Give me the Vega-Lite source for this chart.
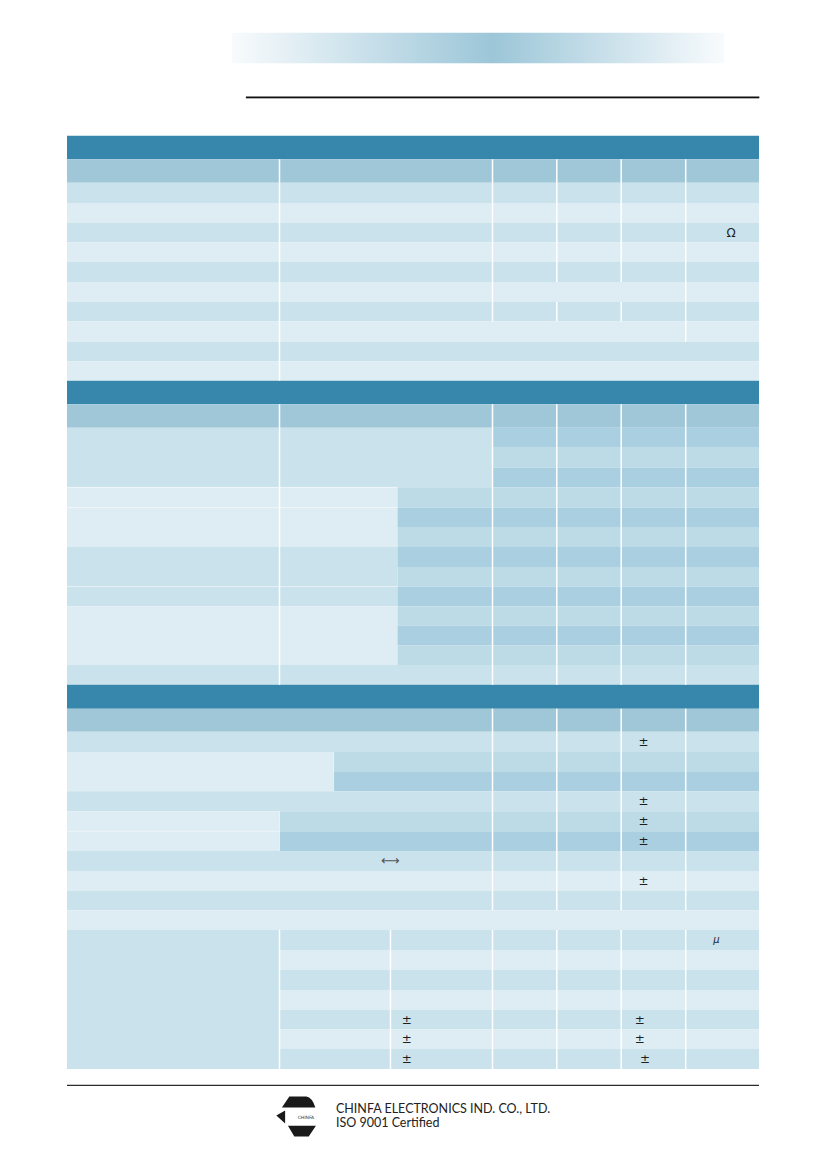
{
  "$schema": "https://vega.github.io/schema/vega-lite/v6.json",
  "width": 826,
  "height": 1169,
  "autosize": {"type": "none"},
  "padding": 0,
  "background": "white",
  "config": {"view": {"stroke": null}},
  "datasets": {
    "banner": [{"c0": 0.776, "c1": 5.523, "r0": -3, "r1": -2}],
    "topline": [{"c0": 0.842, "c1": 6.005, "r0": -1}],
    "footline": [{"c0": 0, "c1": 6, "r0": 47}],
    "cells": [
      {"c0": 0, "c1": 6, "r0": 0, "r1": 1, "tone": "header"},
      {"c0": 0, "c1": 6, "r0": 1, "r1": 2, "tone": "colhead"},
      {"c0": 0, "c1": 6, "r0": 2, "r1": 3, "tone": "band"},
      {"c0": 0, "c1": 6, "r0": 3, "r1": 4, "tone": "pale"},
      {"c0": 0, "c1": 6, "r0": 4, "r1": 5, "tone": "band"},
      {"c0": 0, "c1": 6, "r0": 5, "r1": 6, "tone": "pale"},
      {"c0": 0, "c1": 6, "r0": 6, "r1": 7, "tone": "band"},
      {"c0": 0, "c1": 6, "r0": 7, "r1": 8, "tone": "pale"},
      {"c0": 0, "c1": 6, "r0": 8, "r1": 9, "tone": "band"},
      {"c0": 0, "c1": 6, "r0": 9, "r1": 10, "tone": "pale"},
      {"c0": 0, "c1": 6, "r0": 10, "r1": 11, "tone": "band"},
      {"c0": 0, "c1": 6, "r0": 11, "r1": 12, "tone": "pale"},
      {"c0": 0, "c1": 6, "r0": 12, "r1": 13, "tone": "header"},
      {"c0": 0, "c1": 6, "r0": 13, "r1": 14, "tone": "colhead"},
      {"c0": 0, "c1": 2, "r0": 14, "r1": 17, "tone": "band"},
      {"c0": 2, "c1": 6, "r0": 14, "r1": 15, "tone": "deep"},
      {"c0": 2, "c1": 6, "r0": 15, "r1": 16, "tone": "mid"},
      {"c0": 2, "c1": 6, "r0": 16, "r1": 17, "tone": "deep"},
      {"c0": 0, "c1": 1.554, "r0": 17, "r1": 18, "tone": "pale"},
      {"c0": 1.554, "c1": 6, "r0": 17, "r1": 18, "tone": "mid"},
      {"c0": 0, "c1": 1.554, "r0": 18, "r1": 20, "tone": "pale"},
      {"c0": 1.554, "c1": 6, "r0": 18, "r1": 19, "tone": "deep"},
      {"c0": 1.554, "c1": 6, "r0": 19, "r1": 20, "tone": "mid"},
      {"c0": 0, "c1": 1.554, "r0": 20, "r1": 22, "tone": "band"},
      {"c0": 1.554, "c1": 6, "r0": 20, "r1": 21, "tone": "deep"},
      {"c0": 1.554, "c1": 6, "r0": 21, "r1": 22, "tone": "mid"},
      {"c0": 0, "c1": 1.554, "r0": 22, "r1": 23, "tone": "band"},
      {"c0": 1.554, "c1": 6, "r0": 22, "r1": 23, "tone": "deep"},
      {"c0": 0, "c1": 1.554, "r0": 23, "r1": 26, "tone": "pale"},
      {"c0": 1.554, "c1": 6, "r0": 23, "r1": 24, "tone": "mid"},
      {"c0": 1.554, "c1": 6, "r0": 24, "r1": 25, "tone": "deep"},
      {"c0": 1.554, "c1": 6, "r0": 25, "r1": 26, "tone": "mid"},
      {"c0": 0, "c1": 6, "r0": 26, "r1": 27, "tone": "band"},
      {"c0": 0, "c1": 6, "r0": 27, "r1": 28, "tone": "header"},
      {"c0": 0, "c1": 6, "r0": 28, "r1": 29, "tone": "colhead"},
      {"c0": 0, "c1": 6, "r0": 29, "r1": 30, "tone": "band"},
      {"c0": 0, "c1": 1.254, "r0": 30, "r1": 32, "tone": "pale"},
      {"c0": 1.254, "c1": 6, "r0": 30, "r1": 31, "tone": "mid"},
      {"c0": 1.254, "c1": 6, "r0": 31, "r1": 32, "tone": "deep"},
      {"c0": 0, "c1": 6, "r0": 32, "r1": 33, "tone": "band"},
      {"c0": 0, "c1": 1, "r0": 33, "r1": 35, "tone": "pale"},
      {"c0": 1, "c1": 6, "r0": 33, "r1": 34, "tone": "mid"},
      {"c0": 1, "c1": 6, "r0": 34, "r1": 35, "tone": "deep"},
      {"c0": 0, "c1": 6, "r0": 35, "r1": 36, "tone": "band"},
      {"c0": 0, "c1": 6, "r0": 36, "r1": 37, "tone": "pale"},
      {"c0": 0, "c1": 6, "r0": 37, "r1": 38, "tone": "band"},
      {"c0": 0, "c1": 6, "r0": 38, "r1": 39, "tone": "pale"},
      {"c0": 0, "c1": 1, "r0": 39, "r1": 46, "tone": "band"},
      {"c0": 1, "c1": 6, "r0": 39, "r1": 40, "tone": "band"},
      {"c0": 1, "c1": 6, "r0": 40, "r1": 41, "tone": "pale"},
      {"c0": 1, "c1": 6, "r0": 41, "r1": 42, "tone": "band"},
      {"c0": 1, "c1": 6, "r0": 42, "r1": 43, "tone": "pale"},
      {"c0": 1, "c1": 6, "r0": 43, "r1": 44, "tone": "band"},
      {"c0": 1, "c1": 6, "r0": 44, "r1": 45, "tone": "pale"},
      {"c0": 1, "c1": 6, "r0": 45, "r1": 46, "tone": "band"}
    ],
    "separators": [
      {"c0": 1, "r0": 1, "r1": 12},
      {"c0": 2, "r0": 1, "r1": 9},
      {"c0": 3, "r0": 1, "r1": 7},
      {"c0": 3, "r0": 8, "r1": 9},
      {"c0": 4, "r0": 1, "r1": 7},
      {"c0": 4, "r0": 8, "r1": 9},
      {"c0": 5, "r0": 1, "r1": 10},
      {"c0": 1, "r0": 13, "r1": 27},
      {"c0": 2, "r0": 13, "r1": 27},
      {"c0": 3, "r0": 13, "r1": 27},
      {"c0": 4, "r0": 13, "r1": 27},
      {"c0": 5, "r0": 13, "r1": 27},
      {"c0": 2, "r0": 28, "r1": 38},
      {"c0": 3, "r0": 28, "r1": 38},
      {"c0": 4, "r0": 28, "r1": 38},
      {"c0": 5, "r0": 28, "r1": 38},
      {"c0": 1, "r0": 39, "r1": 46},
      {"c0": 1.521, "r0": 39, "r1": 46},
      {"c0": 2, "r0": 39, "r1": 46},
      {"c0": 3, "r0": 39, "r1": 46},
      {"c0": 4, "r0": 39, "r1": 46},
      {"c0": 5, "r0": 39, "r1": 46}
    ],
    "faintV": [
      {"c0": 1, "r0": 33, "r1": 35},
      {"c0": 1.254, "r0": 30, "r1": 32}
    ],
    "faintH": [
      {"c0": 0, "c1": 1.554, "r0": 17},
      {"c0": 0, "c1": 1.554, "r0": 18},
      {"c0": 0, "c1": 1.554, "r0": 22},
      {"c0": 0, "c1": 1, "r0": 34}
    ],
    "symbols": [
      {"t": "Ω", "c0": 5.62, "r0": 4.5},
      {"t": "±", "c0": 4.346, "r0": 29.5},
      {"t": "±", "c0": 4.346, "r0": 32.5},
      {"t": "±", "c0": 4.346, "r0": 33.5},
      {"t": "±", "c0": 4.346, "r0": 34.5},
      {"t": "±", "c0": 4.346, "r0": 36.5},
      {"t": "±", "c0": 4.29, "r0": 43.5},
      {"t": "±", "c0": 4.29, "r0": 44.5},
      {"t": "±", "c0": 4.37, "r0": 45.5},
      {"t": "±", "c0": 1.597, "r0": 43.5},
      {"t": "±", "c0": 1.597, "r0": 44.5},
      {"t": "±", "c0": 1.597, "r0": 45.5}
    ],
    "mu": [{"t": "μ", "c0": 5.42, "r0": 39.5}],
    "arrow": [{"t": "⟷", "c0": 1.52, "r0": 35.5}],
    "logo": [{"c0": 1.079, "r0": 48.49}],
    "logolabel": [{"t": "CHINFA", "c0": 1.124, "r0": 48.53}],
    "company": [
      {"t": "CHINFA ELECTRONICS IND. CO., LTD.", "c0": 1.265, "r0": 48.41},
      {"t": "ISO 9001 Certified", "c0": 1.265, "r0": 48.75}
    ]
  },
  "encoding": {
    "x": {
      "field": "c0",
      "type": "quantitative",
      "axis": null,
      "scale": {
        "domain": [-1, 0, 1, 2, 3, 4, 5, 6, 7],
        "range": [0, 67, 279.5, 492.5, 556.8, 621.2, 685.7, 759, 826],
        "nice": false,
        "zero": false
      }
    },
    "y": {
      "field": "r0",
      "type": "quantitative",
      "axis": null,
      "scale": {
        "domain": [-4, -3, -2, -1, 0, 1, 2, 3, 4, 5, 6, 7, 8, 9, 10, 11, 12, 13, 14, 15, 16, 17, 18, 19, 20, 21, 22, 23, 24, 25, 26, 27, 28, 29, 30, 31, 32, 33, 34, 35, 36, 37, 38, 39, 40, 41, 42, 43, 44, 45, 46, 47, 48, 49, 50],
        "range": [0, 32.7, 63.3, 97.2, 135.7, 159.3, 182.7, 203, 222.7, 242.3, 262, 282, 302, 321.3, 341.7, 361.3, 380.7, 404.3, 427.7, 447.7, 467.7, 487.3, 507.7, 527, 547, 567, 586.7, 606.3, 625.7, 645.3, 665, 684.7, 708.7, 731.7, 752, 772, 791.3, 811.3, 831.3, 851, 871, 890.7, 910.3, 930, 950, 970, 990, 1009.7, 1029.3, 1049, 1069, 1085.3, 1097, 1137, 1169],
        "nice": false,
        "zero": false
      }
    }
  },
  "layer": [
    {
      "data": {"name": "banner"},
      "mark": {
        "type": "rect",
        "color": {
          "gradient": "linear",
          "stops": [
            {"offset": 0, "color": "#f8fbfd"},
            {"offset": 0.53, "color": "#9cc6d8"},
            {"offset": 1, "color": "#f8fbfd"}
          ]
        }
      },
      "encoding": {"x2": {"field": "c1"}, "y2": {"field": "r1"}}
    },
    {
      "data": {"name": "topline"},
      "mark": {"type": "rule", "color": "#a8a8a8", "strokeWidth": 1, "yOffset": 1.2},
      "encoding": {"x2": {"field": "c1"}}
    },
    {
      "data": {"name": "topline"},
      "mark": {"type": "rule", "color": "#111111", "strokeWidth": 1.4},
      "encoding": {"x2": {"field": "c1"}}
    },
    {
      "data": {"name": "cells"},
      "mark": {"type": "rect"},
      "encoding": {
        "x2": {"field": "c1"},
        "y2": {"field": "r1"},
        "color": {
          "field": "tone",
          "type": "nominal",
          "legend": null,
          "scale": {
            "domain": ["header", "colhead", "band", "pale", "mid", "deep"],
            "range": ["#3786ab", "#9fc7d8", "#c9e2eb", "#deedf3", "#bddbe6", "#aacfe0"]
          }
        }
      }
    },
    {
      "data": {"name": "separators"},
      "mark": {"type": "rule", "color": "#ffffff", "strokeWidth": 1.5},
      "encoding": {"y2": {"field": "r1"}}
    },
    {
      "data": {"name": "faintV"},
      "mark": {"type": "rule", "color": "#ffffff", "strokeWidth": 1, "opacity": 0.45},
      "encoding": {"y2": {"field": "r1"}}
    },
    {
      "data": {"name": "faintH"},
      "mark": {"type": "rule", "color": "#ffffff", "strokeWidth": 1, "opacity": 0.45},
      "encoding": {"x2": {"field": "c1"}}
    },
    {
      "data": {"name": "symbols"},
      "mark": {"type": "text", "font": "DejaVu Sans", "fontSize": 12, "color": "#1e1e1e", "align": "center", "baseline": "middle"},
      "encoding": {"text": {"field": "t"}}
    },
    {
      "data": {"name": "mu"},
      "mark": {"type": "text", "font": "DejaVu Sans", "fontSize": 10, "fontStyle": "italic", "color": "#1e1e1e", "align": "center", "baseline": "middle"},
      "encoding": {"text": {"field": "t"}}
    },
    {
      "data": {"name": "arrow"},
      "mark": {"type": "text", "font": "DejaVu Sans", "fontSize": 13, "color": "#555555", "align": "center", "baseline": "middle"},
      "encoding": {"text": {"field": "t"}}
    },
    {
      "data": {"name": "footline"},
      "mark": {"type": "rule", "color": "#2b2b2b", "strokeWidth": 1.3},
      "encoding": {"x2": {"field": "c1"}}
    },
    {
      "data": {"name": "logo"},
      "mark": {
        "type": "point",
        "filled": true,
        "opacity": 1,
        "color": "#1a1a1a",
        "size": 1600,
        "shape": "M-0.35,-1 L0.5,-1 Q0.8,-0.95 0.95,-0.45 L-0.72,-0.45 Z M-1,-0.05 L-0.56,-0.3 L-0.56,0.34 Z M-0.42,0.46 L0.98,0.46 L0.62,1 L-0.1,1 Z"
      }
    },
    {
      "data": {"name": "logolabel"},
      "mark": {"type": "text", "font": "DejaVu Sans", "fontSize": 4.5, "color": "#333333", "align": "center", "baseline": "middle"},
      "encoding": {"text": {"field": "t"}}
    },
    {
      "data": {"name": "company"},
      "mark": {"type": "text", "font": "Lato", "fontSize": 12.5, "color": "#222222", "align": "left", "baseline": "alphabetic"},
      "encoding": {"text": {"field": "t"}}
    }
  ]
}
